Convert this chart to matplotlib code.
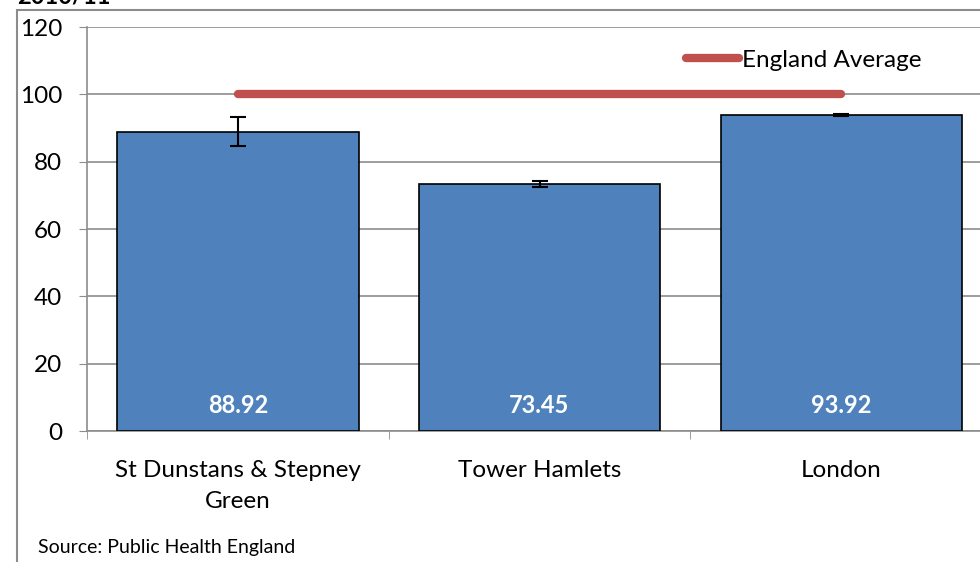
import numpy as np
import matplotlib.pyplot as plt
from matplotlib.patches import Rectangle

plt.rcParams['font.family'] = ['Lato', 'DejaVu Sans']

categories = ['St Dunstans & Stepney\nGreen', 'Tower Hamlets', 'London']
values = [88.92, 73.45, 93.92]
err_low = [84.7, 72.6, 93.7]
err_high = [93.4, 74.3, 94.1]
england_avg = 100
yticks = [0, 20, 40, 60, 80, 100, 120]

fig = plt.figure(figsize=(9.8, 5.62), dpi=100)

# outer frame of the chart area
fig.patches.append(Rectangle((17 / 980, -0.1), 1.2, 1 - 10 / 562 + 0.1,
                             transform=fig.transFigure, fill=False,
                             edgecolor='#8c8c8c', linewidth=1.5))
fig.text(17 / 980, 1 - 7 / 562, '2010/11', fontsize=17, fontweight='bold',
         ha='left', va='bottom')

ax = fig.add_axes([87 / 980, 1 - 431 / 562, 905 / 980, (431 - 27) / 562])
x = np.arange(len(categories))
lower = np.array(values) - np.array(err_low)
upper = np.array(err_high) - np.array(values)
ax.bar(x, values, width=0.8, color='#4f81bd', edgecolor='black',
       linewidth=1.2, zorder=3)
ax.errorbar(x, values, yerr=[lower, upper], fmt='none', ecolor='black',
            elinewidth=1.5, capsize=6, capthick=1.5, zorder=4)
ax.plot([x[0], x[-1]], [england_avg, england_avg], color='#c0504d',
        linewidth=6, solid_capstyle='round', zorder=5, label='England Average')

for xi, v in zip(x, values):
    ax.text(xi, 7.5, f'{v:.2f}', color='white', fontsize=17, fontweight='bold',
            ha='center', va='center', zorder=6)

ax.set_xlim(-0.5, len(categories) - 0.5)
ax.set_ylim(0, 120)
ax.set_yticks(yticks)
ax.tick_params(axis='y', labelsize=17.5, length=6, color='#8c8c8c', pad=12)
ax.set_xticks(x)
ax.set_xticklabels(categories, fontsize=17.5, linespacing=1.55)
ax.tick_params(axis='x', length=0, pad=21)
ax.set_xticks([-0.5, 0.5, 1.5, 2.5], minor=True)
ax.tick_params(axis='x', which='minor', length=6, color='#8c8c8c')
ax.grid(axis='y', color='#8c8c8c', linewidth=1.2, zorder=0)
for s in ['top', 'right']:
    ax.spines[s].set_visible(False)
for s in ['left', 'bottom']:
    ax.spines[s].set_color('#8c8c8c')
    ax.spines[s].set_linewidth(1.2)

ax.legend(loc='center left', bbox_to_anchor=(686 / 980, 1 - 60 / 562),
          bbox_transform=fig.transFigure, frameon=False, fontsize=17.5,
          handlelength=2.2, handletextpad=0.1, borderpad=0, borderaxespad=0)

fig.text(38 / 980, 1 - 548 / 562, 'Source: Public Health England',
         fontsize=14, ha='left', va='center')

fig.savefig('out.png', dpi=100)
